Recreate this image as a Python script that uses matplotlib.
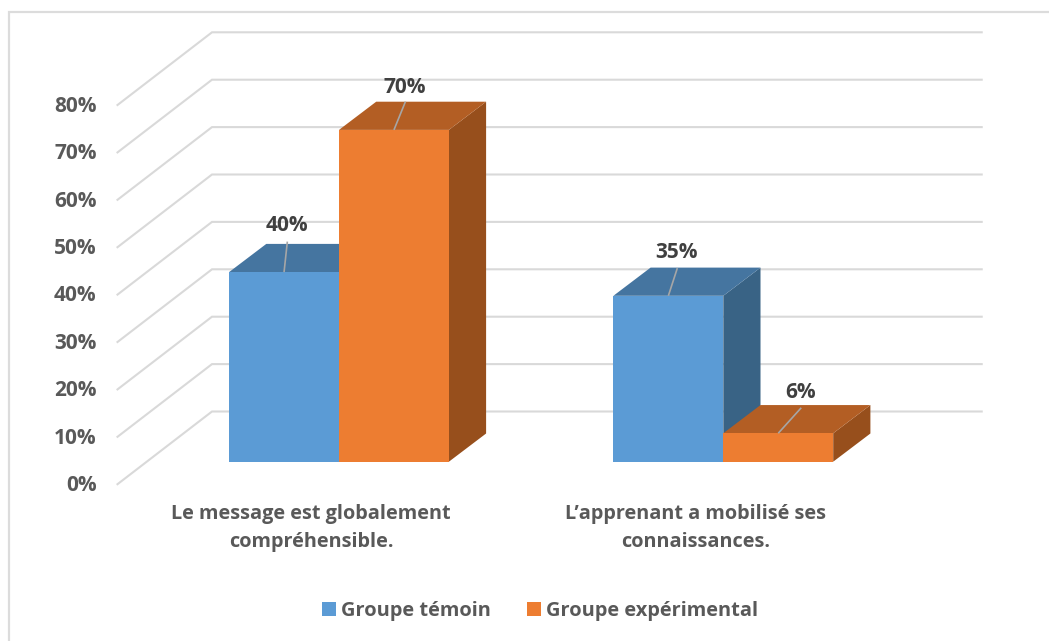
import matplotlib
matplotlib.use("Agg")
import matplotlib.pyplot as plt
from matplotlib.patches import Polygon, Patch

# ---- data ----
categories = ["Le message est globalement\ncompréhensible.",
              "L’apprenant a mobilisé ses\nconnaissances."]
series_names = ["Groupe témoin", "Groupe expérimental"]
groupe_temoin = [40, 35]
groupe_experimental = [70, 6]
tick_values = [0, 10, 20, 30, 40, 50, 60, 70, 80]
series = [groupe_temoin, groupe_experimental]

# ---- layout (pixels of the 1049x641 picture) ----
W, H = 1049, 641
PX_PER_PCT = 4.74
FRONT_BASE = 461.7
GROUP_SPACING = 384.3
GROUP0_PX = 339.0
BAR_W = 109.9 / GROUP_SPACING
DEPTH_X, DEPTH_Y = 37.2 / GROUP_SPACING, 28.2 / PX_PER_PCT

COLORS = [("#5B9BD5", "#4575A0", "#396385"), ("#ED7D31", "#B35E24", "#974F1C")]
GRID = "#D9D9D9"
LEADER = "#A6A6A6"
TXT = "#595959"
LBL = "#404040"
FONT = "Open Sans"
FS_TICK = 15
FS_CAT = 14.3
FS_LEG = 14.4

fig = plt.figure(figsize=(W / 100, H / 100), dpi=100, facecolor="white")
ax = fig.add_axes([0, 0, 1, 1])
# x: category units, y: percent, both aligned to the front plane of the bars
ax.set_xlim(-GROUP0_PX / GROUP_SPACING, (W - GROUP0_PX) / GROUP_SPACING)
ax.set_ylim((FRONT_BASE - H) / PX_PER_PCT, FRONT_BASE / PX_PER_PCT)
ax.axis("off")
dx = 1 / GROUP_SPACING
dy = 1 / PX_PER_PCT

def X(p):
    return (p - GROUP0_PX) * dx

# outer frame: only the left and top edges are visible in the picture
fy0, fy1 = (FRONT_BASE - H) * dy, (FRONT_BASE - 12) * dy
ax.plot([X(9), X(9), X(W)], [fy0, fy1, fy1], color="#DCDCDC", lw=1.6,
        solid_joinstyle="miter", zorder=0)

# walls
back_off = (FRONT_BASE - 411.5) * dy
left_off = (FRONT_BASE - 484.2) * dy
for v in tick_values:
    ax.plot([X(117.5), X(212), X(981.7)],
            [v + left_off, v + back_off, v + back_off],
            color=GRID, lw=1.5, solid_joinstyle="miter", zorder=1)
    ax.text(X(96.5), v + left_off + 1.2 * dy, f"{v}%", ha="right", va="center_baseline",
            family=FONT, weight="bold", fontsize=FS_TICK, color=TXT)

# bars: (leader dx, leader dy, label dx, label dy) in pixels from the bar's top centre
label_offsets = {(0, 0): (3.3, 30.5, 2.5, 49.5), (0, 1): (11.5, 28.3, 11, 45),
                 (1, 0): (9, 27.7, 8, 45.5), (1, 1): (23, 25.5, 22, 43)}
for g in range(len(categories)):
    for s in range(len(series)):
        v = series[s][g]
        x0 = g - BAR_W + s * BAR_W
        x1 = x0 + BAR_W
        front, top, side = COLORS[s]
        z = 3 + g * 10 + s
        ax.add_patch(Polygon([(x1, 0), (x1 + DEPTH_X, DEPTH_Y), (x1 + DEPTH_X, v + DEPTH_Y), (x1, v)],
                             fc=side, ec="none", zorder=z))
        ax.add_patch(Polygon([(x0, v), (x1, v), (x1 + DEPTH_X, v + DEPTH_Y), (x0 + DEPTH_X, v + DEPTH_Y)],
                             fc=top, ec="none", zorder=z))
        ax.bar(x0, v, width=BAR_W, align="edge", color=front, zorder=z + 0.1)
        xc = (x0 + x1) / 2
        ox, oy, lx, ly = label_offsets[(g, s)]
        ax.plot([xc, xc + ox * dx], [v, v + oy * dy], color=LEADER, lw=1.2,
                zorder=z + 0.2, solid_capstyle="butt")
        ax.text(xc + lx * dx, v + ly * dy, f"{v}%", ha="center", va="center_baseline",
                family=FONT, weight="bold", fontsize=FS_TICK, color=LBL, zorder=40)

# category labels
for g, c in enumerate(categories):
    ax.text(g - 28 * dx, (FRONT_BASE - 528) * dy, c, ha="center", va="center",
            family=FONT, weight="bold", fontsize=FS_CAT, color=TXT, linespacing=1.5)

# legend
handles = [Patch(fc=COLORS[i][0], ec="none", label=series_names[i]) for i in range(2)]
ax.legend(handles=handles, ncol=2, loc="center", bbox_to_anchor=(540 / W, 1 - 611 / H),
          bbox_transform=fig.transFigure, frameon=False, handlelength=0.7, handleheight=0.7,
          handletextpad=0.25, columnspacing=1.8,
          prop={"family": FONT, "weight": "bold", "size": FS_LEG}, labelcolor=TXT)

fig.savefig("out.png", dpi=100, facecolor="white")
